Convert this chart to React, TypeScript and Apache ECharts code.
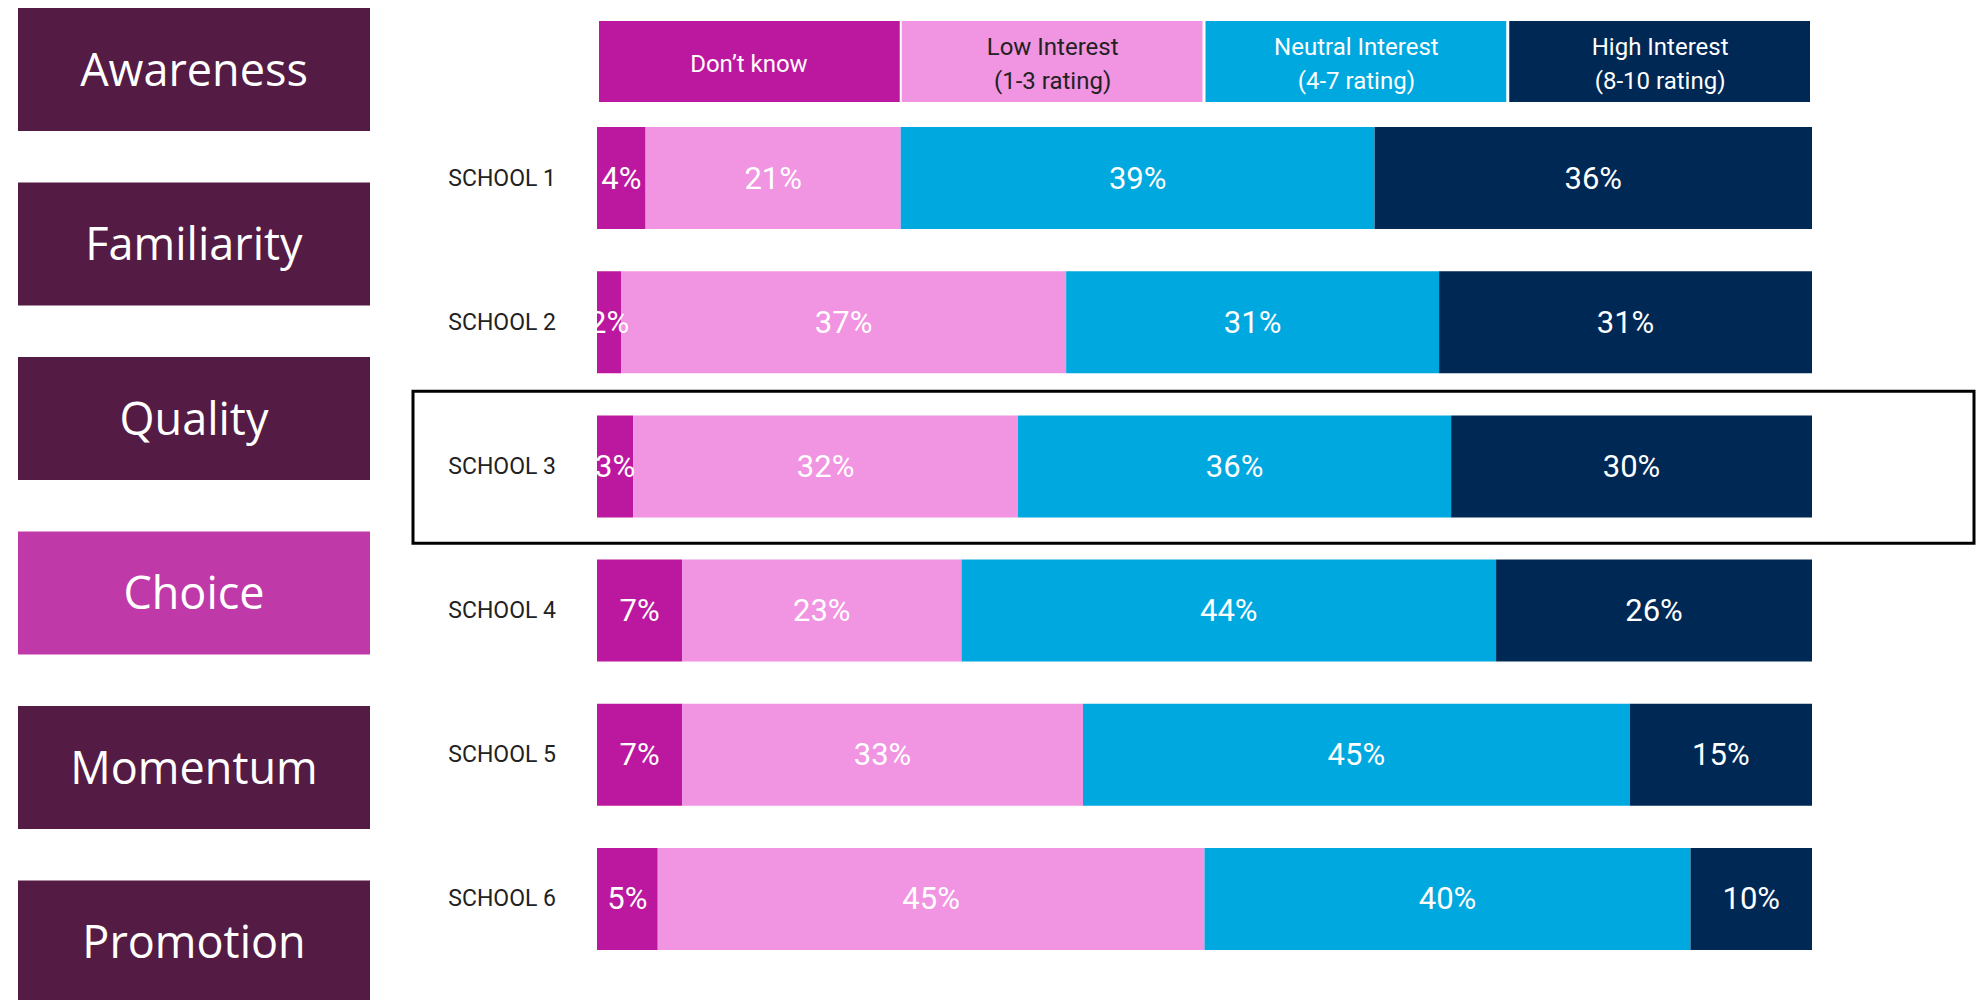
import React, { useEffect, useRef } from "react";
import * as echarts from "echarts";

const schools = ["SCHOOL 1", "SCHOOL 2", "SCHOOL 3", "SCHOOL 4", "SCHOOL 5", "SCHOOL 6"];
const seriesNames = ["Don’t know", "Low Interest\n(1-3 rating)", "Neutral Interest\n(4-7 rating)", "High Interest\n(8-10 rating)"];
const dontKnow = [4, 2, 3, 7, 7, 5];
const lowInterest = [21, 37, 32, 23, 33, 45];
const neutralInterest = [39, 31, 36, 44, 45, 40];
const highInterest = [36, 31, 30, 26, 15, 10];
const sideLabels = ["Awareness", "Familiarity", "Quality", "Choice", "Momentum", "Promotion"];
const activeSide = "Choice";
const highlightedSchool = "SCHOOL 3";

const colors = ["#BC179F", "#F194E2", "#00A8E0", "#002855"];
const headerTextColors = ["#ffffff", "#222222", "#ffffff", "#ffffff"];

const W = 1976;
const H = 1000;
const GRID_LEFT = 597;
const GRID_RIGHT = 164;
const GRID_TOP = 106;
const GRID_BOTTOM = 29;

export default function App() {
  const ref = useRef<HTMLDivElement>(null);
  useEffect(() => {
    if (!ref.current) return;
    const chart = echarts.init(ref.current, null, { renderer: "svg", width: W, height: H });
    const raw = [dontKnow, lowInterest, neutralInterest, highInterest];
    const totals = schools.map((_, i) => raw.reduce((s, arr) => s + arr[i], 0));

    const plotW = W - GRID_LEFT - GRID_RIGHT;
    const band = (H - GRID_TOP - GRID_BOTTOM) / schools.length;

    const graphics: any[] = [];
    // left panel boxes
    sideLabels.forEach((lab, i) => {
      const y = 8 + i * 174.5;
      graphics.push({
        type: "rect",
        shape: { x: 18, y, width: 352, height: 123 },
        style: { fill: lab === activeSide ? "#C039A9" : "#541B44" },
        silent: true,
      });
      graphics.push({
        type: "text",
        x: 194,
        y: y + 60,
        style: {
          text: lab,
          fill: "#ffffff",
          font: "400 45px 'Open Sans', sans-serif",
          align: "center",
          verticalAlign: "middle",
        },
        silent: true,
      });
    });
    // header legend boxes
    const hw = plotW / 4;
    seriesNames.forEach((name, i) => {
      const x = GRID_LEFT + i * hw;
      graphics.push({
        type: "rect",
        shape: { x: x + (i === 0 ? 2 : 1), y: 21, width: hw - 3, height: 81 },
        style: { fill: colors[i] },
        silent: true,
      });
      graphics.push({
        type: "text",
        x: x + hw / 2,
        y: 64,
        style: {
          text: name,
          fill: headerTextColors[i],
          font: "400 24px Roboto, sans-serif",
          lineHeight: 34,
          align: "center",
          verticalAlign: "middle",
        },
        silent: true,
      });
    });
    // highlight box
    const hi = schools.indexOf(highlightedSchool);
    graphics.push({
      type: "rect",
      shape: { x: 413, y: GRID_TOP + hi * band - 3, width: 1561, height: 152 },
      style: { fill: "none", stroke: "#000000", lineWidth: 3 },
      silent: true,
    });

    chart.setOption({
      animation: false,
      backgroundColor: "#ffffff",
      grid: { left: GRID_LEFT, right: GRID_RIGHT, top: GRID_TOP, bottom: GRID_BOTTOM, containLabel: false },
      xAxis: { type: "value", min: 0, max: 100, show: false },
      yAxis: {
        type: "category",
        data: schools,
        inverse: true,
        axisLine: { show: false },
        axisTick: { show: false },
        axisLabel: { color: "#222222", fontSize: 23, fontFamily: "Roboto, sans-serif", margin: 41 },
      },
      series: raw.map((arr, si) => ({
        name: seriesNames[si],
        type: "bar",
        stack: "total",
        barWidth: 102,
        itemStyle: { color: colors[si] },
        label: {
          show: true,
          position: "inside",
          color: "#ffffff",
          fontSize: 31,
          fontFamily: "Roboto, sans-serif",
          fontWeight: 400,
          formatter: (p: any) => `${arr[p.dataIndex]}%`,
        },
        data: arr.map((v, i) => (v / totals[i]) * 100),
      })),
      graphic: graphics,
    });
    return () => chart.dispose();
  }, []);
  return <div ref={ref} style={{ position: "fixed", left: 0, top: 0, width: W, height: H }} />;
}
